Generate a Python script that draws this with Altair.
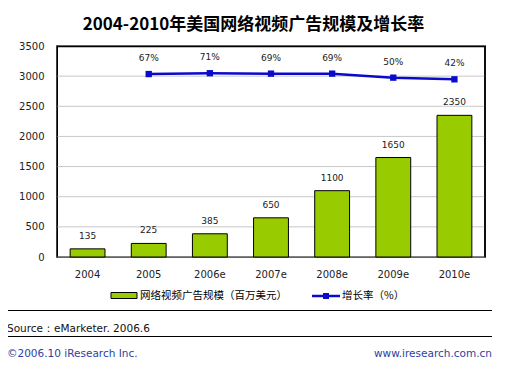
import altair as alt
import pandas as pd

# ---- data ----
years = ["2004", "2005", "2006e", "2007e", "2008e", "2009e", "2010e"]
ad_size = [135, 225, 385, 650, 1100, 1650, 2350]
growth_years = ["2005", "2006e", "2007e", "2008e", "2009e", "2010e"]
growth = [67, 71, 69, 69, 50, 42]
y_ticks = [0, 500, 1000, 1500, 2000, 2500, 3000, 3500]

title_text = "2004-2010年美国网络视频广告规模及增长率"
legend_bar = "网络视频广告规模（百万美元）"
legend_line = "增长率（%）"
source_text = "Source：eMarketer. 2006.6"
footer_left = "©2006.10 iResearch Inc."
footer_right = "www.iresearch.com.cn"

FONT = "DejaVu Sans"
CJK = "Noto Sans CJK SC"
GREEN = "#99CC00"
BLUE = "#0A0ACC"
FOOT = "#2E3F9E"

bars_df = pd.DataFrame({"year": years, "size": ad_size})
grid_df = pd.DataFrame({"size": y_ticks})
growth_df = pd.DataFrame({"year": growth_years, "rate": growth,
                          "label": [f"{g}%" for g in growth]})
one = pd.DataFrame({"k": [1]})

x_scale = alt.Scale(domain=years, paddingInner=0.43, paddingOuter=0.215)
x_axis = alt.Axis(title=None, labelAngle=0, labelFont=FONT, labelFontSize=10,
                  labelColor="#222222", labelPadding=12, tickSize=0,
                  domainColor="black", grid=False)
X = alt.X("year:N", sort=years, scale=x_scale, axis=x_axis)

y_scale = alt.Scale(domain=[0, 3500], nice=False)
y_axis = alt.Axis(title=None, values=y_ticks, tickCount=8, format="d",
                  labelOverlap=False, labelFont=FONT, labelFontSize=10,
                  labelColor="#222222", labelPadding=13, tickSize=0,
                  grid=False, domainColor="black")

def Y(field):
    return alt.Y(field, scale=y_scale, axis=y_axis)

grid = alt.Chart(grid_df).mark_rule(color="#C8C8C8", strokeWidth=1).encode(
    y=Y("size:Q"), x=alt.value(0.5), x2=alt.value(428))
bars = alt.Chart(bars_df).mark_bar(color=GREEN, stroke="black", strokeWidth=1).encode(
    x=X, y=Y("size:Q"))
bar_text = alt.Chart(bars_df).mark_text(font=FONT, fontSize=9, color="#222222",
                                        baseline="middle", dy=-13).encode(
    x=X, y=Y("size:Q"), text="size:Q")

# growth rate drawn on a hidden secondary range (-800%..200%) mapped onto the left scale
growth_base = alt.Chart(growth_df).transform_calculate(
    size="(datum.rate + 800) * 3.5")
line = growth_base.mark_line(color=BLUE, strokeWidth=2.5).encode(x=X, y=Y("size:Q"))
pts = growth_base.mark_square(color=BLUE, size=40, opacity=1).encode(x=X, y=Y("size:Q"))
pct_text = growth_base.mark_text(font=FONT, fontSize=9, color="#222222",
                                 baseline="middle", dy=-16).encode(
    x=X, y=Y("size:Q"), text="label:N")

# ---- decorations (positions in pixels relative to plot origin) ----
def txt(s, x, y, font=FONT, size=10.5, color="black", align="left", weight="normal"):
    return alt.Chart(one).mark_text(text=s, font=font, fontSize=size, color=color,
                                    align=align, baseline="middle", fontWeight=weight).encode(
        x=alt.value(x), y=alt.value(y))

def hrule(x1, x2, y, w=1, color="black"):
    return alt.Chart(one).mark_rule(color=color, strokeWidth=w).encode(
        x=alt.value(x1), x2=alt.value(x2), y=alt.value(y))

def vrule(x, y1, y2, w=1, color="black"):
    return alt.Chart(one).mark_rule(color=color, strokeWidth=w).encode(
        x=alt.value(x), y=alt.value(y1), y2=alt.value(y2))

title = txt(title_text, 196.5, -21, font=CJK, size=17, align="center", weight="bold")
frame_top = hrule(0, 428.5, 0.5, w=1.5)
frame_right = vrule(428, 0, 211, w=1.5)
leg_rect = alt.Chart(one).mark_rect(color=GREEN, stroke="black", strokeWidth=1).encode(
    x=alt.value(54), x2=alt.value(80), y=alt.value(246.5), y2=alt.value(252.5))
leg_t1 = txt(legend_bar, 83, 250, font=CJK, size=10.5)
leg_line = hrule(255, 283, 250, w=2.5, color=BLUE)
leg_pt = alt.Chart(one).mark_square(color=BLUE, size=36, opacity=1).encode(
    x=alt.value(269), y=alt.value(250))
leg_t2 = txt(legend_line, 285, 250, font=CJK, size=10.5)
sep1 = hrule(-50, 435, 264.5)
sep2 = hrule(-50, 435, 290.5)
src = txt(source_text, -50, 283, size=10.5, color="#111111")
foot_l = txt(footer_left, -50, 308, size=10.5, color=FOOT)
foot_r = txt(footer_right, 435, 308, size=10.5, color=FOOT, align="right")

chart = alt.layer(
    grid, bars, bar_text, line, pts, pct_text,
    title, frame_top, frame_right, leg_rect, leg_t1, leg_line, leg_pt, leg_t2,
    sep1, sep2, src, foot_l, foot_r,
).properties(
    width=428, height=211,
    autosize=alt.AutoSizeParams(type="none"),
    padding={"left": 49, "top": 38, "right": 15, "bottom": 104},
    background="white",
).configure_view(stroke="black", strokeWidth=1.5)

chart.save("out.html", embed_options={"renderer": "svg", "actions": False})
